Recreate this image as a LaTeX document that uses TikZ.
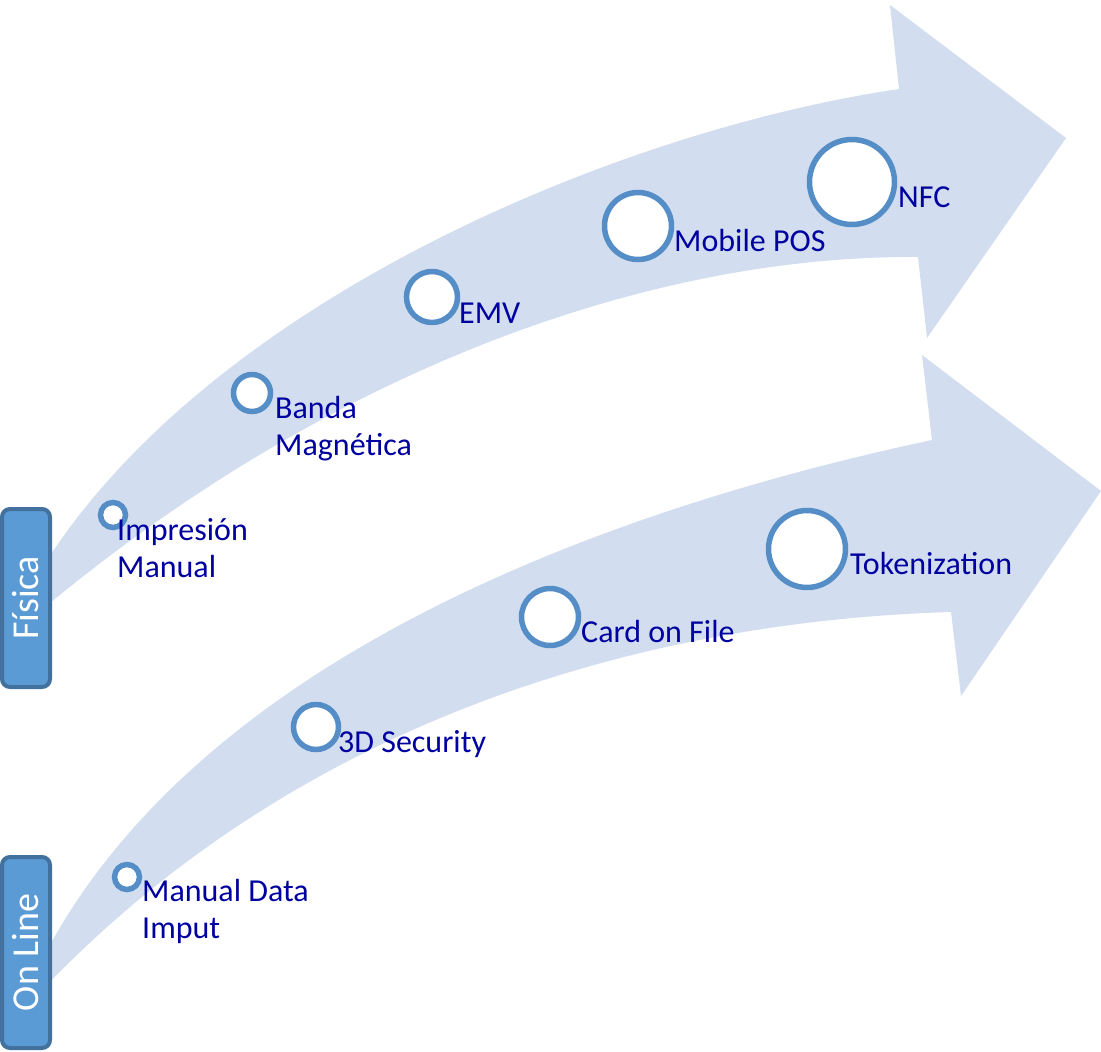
\documentclass[tikz,border=0pt]{standalone}
\usepackage{fontspec}
\setmainfont{Carlito}
\usetikzlibrary{positioning}

\definecolor{bandfill}{RGB}{210,222,239}
\definecolor{ringblue}{RGB}{85,142,199}
\definecolor{tagfill}{RGB}{91,155,213}
\definecolor{tagline}{RGB}{65,113,156}
\definecolor{labelblue}{RGB}{0,0,160}

\begin{document}
\begin{tikzpicture}[x=1pt,y=-1pt, every node/.style={font=\fontsize{32}{37}\selectfont}]
    \tikzset{band/.style={fill=bandfill,draw=none}}
    \tikzset{stage/.style={circle,draw=ringblue,line width=5.5pt,fill=white,inner sep=0pt}}
    \tikzset{slabel/.style={text=labelblue,anchor=base west,inner sep=0pt,align=left}}
    \tikzset{tag/.style={draw=tagline,fill=tagfill,line width=4pt,rounded corners=8pt,
        text=white,rotate=90,minimum height=48pt,font=\fontsize{38}{40}\selectfont}}

    \useasboundingbox (0,0) rectangle (1101,1052);

    % Top arrow (Fisica)
    \fill[band] (42,568) .. controls (210,300) and (620,130) .. (899,89)
        -- (890,5) -- (1066,138) -- (927,338) -- (918,257)
        .. controls (650,255) and (330,370) .. (44,608) -- cycle;

    % Bottom arrow (On Line)
    \fill[band] (44,956) .. controls (210,640) and (650,500) .. (932,440)
        -- (922,355) -- (1101,491) -- (961,696) -- (951,612)
        .. controls (681,620) and (320,700) .. (44,988) -- cycle;

    % Side tags
    \node[tag,minimum width=178pt] (fisica) at (26,598) {Física};
    \node[tag,minimum width=191pt] (online) at (26,952.5) {On Line};

    % Stages, top arrow
    \node[stage,minimum size=25pt] (imp) at (113,515) {};
    \node[stage,minimum size=37pt] (banda) at (252,393) {};
    \node[stage,minimum size=51pt] (emv) at (432,297) {};
    \node[stage,minimum size=67pt] (mpos) at (638,226) {};
    \node[stage,minimum size=85pt] (nfc) at (852,182) {};

    % Stages, bottom arrow
    \node[stage,minimum size=25pt] (mdi) at (127,877) {};
    \node[stage,minimum size=45pt] (tds) at (316,727) {};
    \node[stage,minimum size=57pt] (cof) at (550,617) {};
    \node[stage,minimum size=77pt] (tok) at (807,549) {};

    % Labels (two-line ones sit on the baseline of their last line)
    \node[slabel] (limp) at (117,577) {Impresión\\Manual};
    \node[slabel] (lbanda) at (275,455) {Banda\\Magnética};
    \node[slabel] (lemv) at (459,323) {EMV};
    \node[slabel] (lmpos) at (674,251) {Mobile POS};
    \node[slabel] (lnfc) at (898,207) {NFC};
    \node[slabel] (lmdi) at (142,938) {Manual Data\\Imput};
    \node[slabel] (ltds) at (338,752) {3D Security};
    \node[slabel] (lcof) at (581,642) {Card on File};
    \node[slabel] (ltok) at (850,574) {Tokenization};
\end{tikzpicture}
\end{document}
